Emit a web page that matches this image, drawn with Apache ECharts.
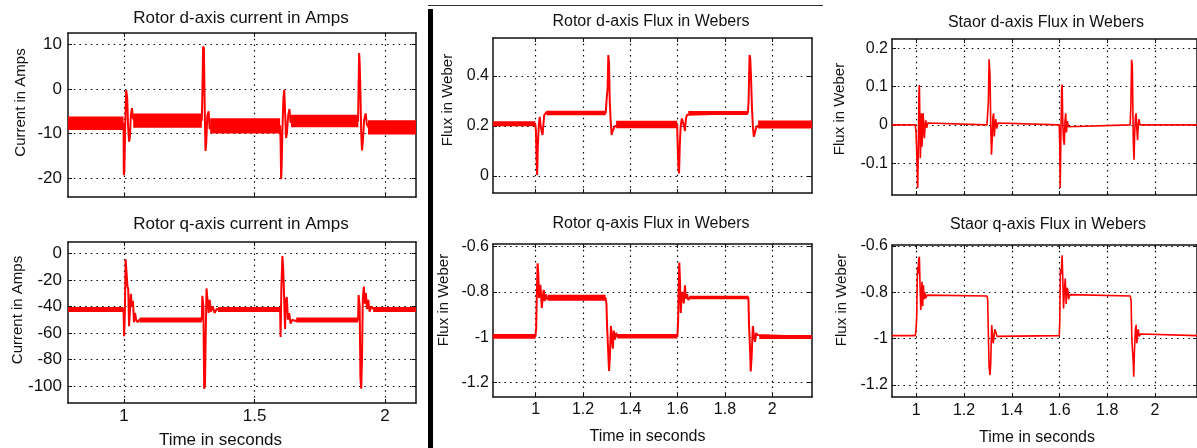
<!DOCTYPE html>
<html>
<head>
<meta charset="utf-8">
<script src="https://cdn.jsdelivr.net/npm/echarts@6/dist/echarts.min.js"></script>
<style>
  html, body { margin: 0; padding: 0; background: #fff; }
  #chart { width: 1197px; height: 448px; }
</style>
</head>
<body>
<div id="chart"></div>
<script>
// ---- tick values ----
const ticksTimeLeft = [1, 1.5, 2];
const ticksTimeFlux = [1, 1.2, 1.4, 1.6, 1.8, 2];
const ticksRotorId = [-20, -10, 0, 10];
const ticksRotorIq = [-100, -80, -60, -40, -20, 0];
const ticksRotorFd = [0, 0.2, 0.4];
const ticksRotorFq = [-1.2, -1, -0.8, -0.6];
const ticksStatorFd = [-0.1, 0, 0.1, 0.2];
const ticksStatorFq = [-1.2, -1, -0.8, -0.6];

// ---- rotor d-axis current (A): trace [t, i] ----
const rotorIdTrace = [
  [0.785, -7.7], [0.998, -7.7], [0.999, -19.3], [1.001, -18.5], [1.004, -9], [1.008, -0.3],
  [1.012, -2], [1.015, -8], [1.019, -11.8], [1.022, -11], [1.026, -6], [1.030, -4.3],
  [1.034, -6.5], [1.040, -7.1], [1.298, -7.1], [1.301, 2], [1.303, 9.5], [1.306, 9],
  [1.309, -4], [1.312, -13.9], [1.315, -12], [1.319, -6], [1.324, -5.0], [1.328, -9],
  [1.333, -8.3], [1.598, -8.3], [1.600, -12], [1.602, -20.2], [1.604, -17.3], [1.607, -9],
  [1.611, -2], [1.614, -0.2], [1.617, -5], [1.621, -11], [1.624, -10], [1.629, -6],
  [1.634, -4.5], [1.638, -7.5], [1.645, -7.2], [1.897, -7.2], [1.899, 0.5], [1.901, 8.0],
  [1.903, 6], [1.906, -1], [1.909, -10], [1.912, -13.8], [1.915, -12], [1.920, -7],
  [1.926, -5.5], [1.931, -8], [1.937, -8.6], [2.119, -8.6]
];
// steady-state ripple envelopes: [tStart, tEnd, low, high]
const rotorIdRipple = [
  [0.785, 0.998, -9.2, -6.2], [1.035, 1.298, -8.7, -5.5], [1.33, 1.598, -10.0, -6.6],
  [1.64, 1.898, -8.6, -5.8], [1.935, 2.119, -10.2, -7.0]
];

// ---- rotor q-axis current (A) ----
const rotorIqTrace = [
  [0.785, -42.4], [0.998, -42.4], [1.000, -62.5], [1.003, -45], [1.006, -4.5], [1.010, -5],
  [1.013, -25], [1.016, -27], [1.019, -55], [1.022, -45], [1.026, -30.5], [1.030, -40],
  [1.034, -36], [1.038, -52], [1.042, -45], [1.046, -50], [1.052, -52], [1.058, -50],
  [1.065, -50.2], [1.298, -50.2], [1.300, -32], [1.304, -40], [1.307, -102], [1.310, -100],
  [1.313, -60], [1.316, -26.5], [1.320, -28], [1.324, -45], [1.328, -35], [1.333, -44],
  [1.340, -40], [1.347, -45], [1.355, -42], [1.365, -42.4], [1.598, -42.4], [1.600, -63],
  [1.603, -25], [1.607, -2], [1.610, -12], [1.613, -30], [1.617, -57], [1.620, -35],
  [1.624, -33], [1.628, -50], [1.633, -45], [1.638, -53], [1.645, -50], [1.655, -51],
  [1.665, -50.2], [1.897, -50.2], [1.899, -31.5], [1.903, -40], [1.906, -94], [1.909, -102],
  [1.912, -80], [1.915, -35], [1.919, -25], [1.923, -38], [1.927, -30], [1.931, -42],
  [1.936, -35], [1.941, -44], [1.948, -40], [1.958, -42.4], [2.119, -42.4]
];
const rotorIqRipple = [
  [0.785, 0.998, -44.3, -40.5], [1.06, 1.298, -52.1, -48.3], [1.36, 1.598, -44.3, -40.5],
  [1.66, 1.897, -52.1, -48.3], [1.955, 2.119, -44.3, -40.5]
];

// ---- rotor d-axis flux (Wb) ----
const rotorFdTrace = [
  [0.819, 0.209], [0.998, 0.209], [1.001, 0.18], [1.004, 0.06], [1.006, 0.004], [1.009, 0.12],
  [1.013, 0.2], [1.017, 0.237], [1.021, 0.2], [1.025, 0.18], [1.029, 0.164], [1.032, 0.2],
  [1.036, 0.244], [1.040, 0.24], [1.045, 0.255], [1.052, 0.252], [1.296, 0.252], [1.300, 0.31],
  [1.304, 0.35], [1.307, 0.484], [1.310, 0.45], [1.313, 0.3], [1.317, 0.22], [1.321, 0.164],
  [1.325, 0.18], [1.330, 0.19], [1.335, 0.2], [1.340, 0.206], [1.598, 0.206], [1.600, 0.13],
  [1.603, 0.04], [1.606, 0.01], [1.609, 0.12], [1.613, 0.2], [1.618, 0.23], [1.623, 0.237],
  [1.627, 0.2], [1.631, 0.18], [1.635, 0.23], [1.640, 0.245], [1.646, 0.252], [1.897, 0.252],
  [1.900, 0.3], [1.904, 0.484], [1.907, 0.47], [1.910, 0.4], [1.914, 0.28], [1.918, 0.2],
  [1.922, 0.157], [1.926, 0.17], [1.931, 0.19], [1.937, 0.2], [1.945, 0.206], [2.168, 0.206]
];
const rotorFdRipple = [
  [0.819, 0.998, 0.199, 0.219], [1.045, 1.296, 0.243, 0.261], [1.34, 1.598, 0.191, 0.221],
  [1.645, 1.897, 0.244, 0.26], [1.94, 2.168, 0.19, 0.222]
];

// ---- rotor q-axis flux (Wb) ----
const rotorFqTrace = [
  [0.819, -0.995], [0.999, -0.995], [1.002, -0.96], [1.005, -0.8], [1.008, -0.673], [1.011, -0.72],
  [1.014, -0.826], [1.017, -0.8], [1.020, -0.768], [1.023, -0.82], [1.026, -0.87], [1.030, -0.82],
  [1.034, -0.79], [1.038, -0.84], [1.042, -0.81], [1.047, -0.83], [1.055, -0.825], [1.295, -0.825],
  [1.299, -0.85], [1.302, -0.958], [1.306, -1.05], [1.310, -1.148], [1.313, -1.1], [1.318, -0.95],
  [1.322, -1.0], [1.326, -1.05], [1.330, -0.97], [1.335, -1.01], [1.340, -0.98], [1.345, -0.995],
  [1.599, -0.995], [1.602, -0.93], [1.605, -0.75], [1.607, -0.67], [1.610, -0.75], [1.613, -0.892],
  [1.617, -0.82], [1.621, -0.8], [1.626, -0.85], [1.631, -0.77], [1.635, -0.83], [1.640, -0.81],
  [1.645, -0.835], [1.652, -0.824], [1.899, -0.824], [1.902, -0.95], [1.906, -1.05], [1.909, -1.15],
  [1.913, -1.08], [1.918, -0.95], [1.922, -0.99], [1.927, -1.02], [1.932, -0.98], [1.937, -0.99],
  [1.945, -0.998], [2.168, -0.998]
];
const rotorFqRipple = [
  [0.819, 0.999, -1.006, -0.985], [1.05, 1.295, -0.838, -0.812], [1.345, 1.599, -1.005, -0.985],
  [1.65, 1.899, -0.832, -0.816], [1.945, 2.168, -1.007, -0.99]
];

// ---- stator d-axis flux (Wb) ----
const statorFdTrace = [
  [0.898, 0.0], [0.996, 0.0], [0.999, -0.02], [1.002, -0.07], [1.006, -0.165], [1.009, -0.05],
  [1.011, 0.08], [1.013, 0.104], [1.015, 0.02], [1.017, -0.087], [1.020, -0.02], [1.022, 0.03],
  [1.024, -0.057], [1.027, -0.01], [1.029, 0.03], [1.031, 0.028], [1.034, -0.035], [1.037, 0.0],
  [1.040, 0.012], [1.044, -0.008], [1.048, 0.005], [1.055, 0.0], [1.296, 0.0], [1.299, 0.03],
  [1.302, 0.06], [1.305, 0.171], [1.307, 0.15], [1.309, 0.126], [1.312, 0.0], [1.315, -0.078],
  [1.318, -0.04], [1.321, 0.02], [1.324, 0.03], [1.327, -0.03], [1.330, 0.0], [1.333, 0.015],
  [1.337, -0.01], [1.342, 0.005], [1.350, 0.0], [1.599, 0.0], [1.601, -0.05], [1.603, -0.165],
  [1.606, -0.02], [1.609, 0.09], [1.611, 0.105], [1.614, 0.0], [1.617, -0.04], [1.620, -0.052],
  [1.623, 0.01], [1.626, 0.03], [1.629, -0.02], [1.633, 0.01], [1.637, -0.005], [1.643, 0.0],
  [1.896, 0.0], [1.899, 0.05], [1.902, 0.17], [1.905, 0.155], [1.907, 0.15], [1.909, -0.04],
  [1.912, -0.091], [1.915, -0.02], [1.918, 0.02], [1.921, 0.03], [1.924, -0.01], [1.927, -0.04],
  [1.930, 0.0], [1.933, 0.015], [1.937, 0.0], [1.942, 0.003], [1.948, 0.0], [2.176, 0.0]
];

// ---- stator q-axis flux (Wb) ----
const statorFqTrace = [
  [0.898, -0.987], [0.996, -0.987], [0.999, -0.96], [1.002, -0.9], [1.004, -0.75], [1.006, -0.69],
  [1.008, -0.72], [1.010, -0.66], [1.013, -0.646], [1.016, -0.78], [1.019, -0.876], [1.022, -0.8],
  [1.024, -0.754], [1.027, -0.86], [1.030, -0.77], [1.033, -0.83], [1.036, -0.8], [1.040, -0.825],
  [1.045, -0.812], [1.052, -0.816], [1.296, -0.816], [1.299, -0.83], [1.302, -0.98], [1.305, -1.12],
  [1.309, -1.157], [1.312, -1.1], [1.316, -0.941], [1.319, -0.98], [1.322, -1.02], [1.326, -0.99],
  [1.329, -0.96], [1.333, -0.97], [1.338, -0.99], [1.345, -0.987], [1.599, -0.987], [1.601, -0.93],
  [1.604, -0.7], [1.607, -0.72], [1.611, -0.64], [1.614, -0.75], [1.617, -0.87], [1.620, -0.8],
  [1.624, -0.74], [1.628, -0.85], [1.631, -0.78], [1.635, -0.79], [1.638, -0.83], [1.643, -0.81],
  [1.650, -0.816], [1.897, -0.816], [1.900, -0.84], [1.903, -1.0], [1.906, -1.056], [1.909, -1.1],
  [1.911, -1.164], [1.914, -1.05], [1.918, -0.96], [1.921, -0.94], [1.924, -1.02], [1.927, -0.98],
  [1.930, -0.96], [1.934, -0.99], [1.940, -0.98], [1.948, -0.987], [2.176, -0.987]
];

// ---- layout of the six axes boxes ----
const FONT = "'Liberation Sans', Arial, sans-serif";
const INK = '#111';
const RED = '#ff0000';

const panels = [
  { box: [68, 33, 348, 164],  x: [0.785, 2.119], xt: ticksTimeLeft, y: [-24.2, 12.5],  yt: ticksRotorId,
    xLabels: false, fs: 17, ym: 6, xm: 5, trace: rotorIdTrace, ripple: rotorIdRipple, lw: 2 },
  { box: [68, 242, 348, 161], x: [0.785, 2.119], xt: ticksTimeLeft, y: [-112.8, 8.5],  yt: ticksRotorIq,
    xLabels: true, fs: 17, ym: 6, xm: 5, trace: rotorIqTrace, ripple: rotorIqRipple, lw: 2 },
  { box: [493, 38, 319, 155], x: [0.8195, 2.168], xt: ticksTimeFlux, y: [-0.068, 0.552], yt: ticksRotorFd,
    xLabels: false, fs: 16, ym: 4, xm: 5, trace: rotorFdTrace, ripple: rotorFdRipple, lw: 2 },
  { box: [493, 244, 319, 153], x: [0.8195, 2.168], xt: ticksTimeFlux, y: [-1.263, -0.588], yt: ticksRotorFq,
    xLabels: true, fs: 16, ym: 4, xm: 5, trace: rotorFqTrace, ripple: rotorFqRipple, lw: 2 },
  { box: [892, 39, 307, 156], x: [0.8983, 2.176], xt: ticksTimeFlux, y: [-0.183, 0.224], yt: ticksStatorFd,
    xLabels: false, fs: 16, ym: 4, xm: 6, trace: statorFdTrace, ripple: null, lw: 1.6 },
  { box: [892, 245, 307, 152], x: [0.8983, 2.176], xt: ticksTimeFlux, y: [-1.2518, -0.5957], yt: ticksStatorFq,
    xLabels: true, fs: 16, ym: 4, xm: 6, trace: statorFqTrace, ripple: null, lw: 1.6 }
];

const frameLine = { show: true, onZero: false, lineStyle: { color: INK, width: 1.5 } };
const dotted = { show: true, lineStyle: { color: '#000', width: 1.2, type: [1.5, 4.2] } };
const fmt = v => String(Math.round(v * 1000) / 1000);

const grid = [], xAxis = [], yAxis = [], series = [];

panels.forEach((p, i) => {
  grid.push({ left: p.box[0], top: p.box[1], width: p.box[2], height: p.box[3], show: false });
  const tick = vals => ({ show: true, inside: true, length: 4, customValues: vals, lineStyle: { color: INK, width: 1 } });
  // bottom and top time axes
  xAxis.push({
    type: 'value', gridIndex: i, position: 'bottom', min: p.x[0], max: p.x[1],
    axisLine: frameLine, axisTick: tick(p.xt), splitLine: dotted,
    axisLabel: { show: p.xLabels, customValues: p.xt, formatter: fmt, color: INK,
                 fontSize: p.fs, fontFamily: FONT, margin: p.xm }
  });
  xAxis.push({
    type: 'value', gridIndex: i, position: 'top', min: p.x[0], max: p.x[1],
    axisLine: frameLine, axisTick: tick(p.xt), splitLine: { show: false }, axisLabel: { show: false }
  });
  // left and right value axes
  yAxis.push({
    type: 'value', gridIndex: i, position: 'left', min: p.y[0], max: p.y[1],
    axisLine: frameLine, axisTick: tick(p.yt), splitLine: dotted,
    axisLabel: { show: true, customValues: p.yt, formatter: fmt, color: INK,
                 fontSize: p.fs, fontFamily: FONT, margin: p.ym }
  });
  yAxis.push({
    type: 'value', gridIndex: i, position: 'right', min: p.y[0], max: p.y[1],
    axisLine: frameLine, axisTick: tick(p.yt), splitLine: { show: false }, axisLabel: { show: false }
  });

  if (p.ripple) {
    series.push({
      type: 'custom', xAxisIndex: 2 * i, yAxisIndex: 2 * i, data: p.ripple,
      encode: { x: [0, 1], y: [2, 3] }, silent: true, z: 2,
      renderItem: (params, api) => {
        const a = api.coord([api.value(0), api.value(3)]);
        const b = api.coord([api.value(1), api.value(2)]);
        return { type: 'rect', shape: { x: a[0], y: a[1], width: b[0] - a[0], height: b[1] - a[1] },
                 style: { fill: RED } };
      }
    });
  }
  series.push({
    type: 'line', xAxisIndex: 2 * i, yAxisIndex: 2 * i, data: p.trace, showSymbol: false,
    symbol: 'none', silent: true, z: 3, lineStyle: { color: RED, width: p.lw }
  });
});

// ---- titles and axis names ----
const txt = (text, x, y, size, rot) => ({
  type: 'text', x, y, rotation: rot ? Math.PI / 2 : 0, silent: true,
  style: { text, fontSize: size, fontFamily: FONT, fill: INK, align: 'center', verticalAlign: 'middle' }
});

const graphic = [
  txt('Rotor d-axis current in Amps', 241, 18.5, 17),
  txt('Rotor q-axis current in Amps', 241, 224.5, 17),
  txt('Rotor d-axis Flux in Webers', 651, 21.5, 16),
  txt('Rotor q-axis Flux in Webers', 651, 223.5, 16),
  txt('Staor d-axis Flux in Webers', 1046, 23, 16),
  txt('Staor q-axis Flux in Webers', 1048, 225, 16),
  txt('Current in Amps', 21, 102.5, 15, true),
  txt('Current in Amps', 18, 310, 15, true),
  txt('Flux in Weber', 448, 100, 15, true),
  txt('Flux in Weber', 444, 300, 15, true),
  txt('Flux in Weber', 840, 109, 15, true),
  txt('Flux in Weber', 841.5, 300, 15, true),
  txt('Time in seconds', 220.5, 440, 17),
  txt('Time in seconds', 647.5, 436.5, 16),
  txt('Time in seconds', 1037, 438, 16),
  // page divider and rule
  { type: 'rect', silent: true, shape: { x: 428, y: 9, width: 5, height: 440 }, style: { fill: '#000' } },
  { type: 'line', silent: true, shape: { x1: 428, y1: 5.5, x2: 823, y2: 5.5 }, style: { stroke: '#333', lineWidth: 1 } }
];

const chart = echarts.init(document.getElementById('chart'), null, { renderer: 'canvas' });
chart.setOption({
  backgroundColor: '#fff',
  animation: false,
  grid, xAxis, yAxis, series, graphic
});
</script>
</body>
</html>
